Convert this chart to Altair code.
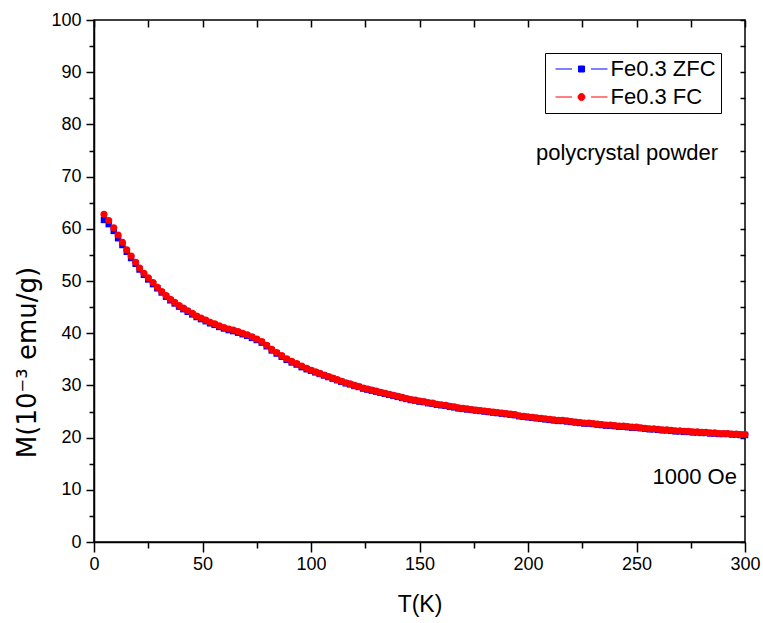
import altair as alt
import pandas as pd

# ---------------- data ----------------
T_low = [4.6, 6.8, 9.1, 11.1, 13.1, 15.1, 17.1, 19.2, 21.0, 23.0, 25.0, 27.2, 29.2,
         31.2, 33.2, 35.2, 37.2, 39.2, 41.2, 43.2, 45.3, 47.3, 49.3, 51.5, 53.5, 55.6,
         57.7, 59.9, 62.1, 64.2, 66.4, 68.5, 70.6, 72.8, 75.0, 77.3, 79.6, 81.9, 84.2,
         86.5, 88.8, 91.1, 93.4, 95.7, 98.0]
FC_low = [62.8, 61.6, 60.2, 58.8, 57.4, 56.0, 54.8, 53.6, 52.5, 51.5, 50.6, 49.7, 48.8,
          48.0, 47.2, 46.5, 45.9, 45.3, 44.8, 44.3, 43.8, 43.3, 42.9, 42.5, 42.1, 41.8,
          41.4, 41.1, 40.8, 40.6, 40.3, 40.0, 39.7, 39.3, 38.9, 38.4, 37.7, 36.9, 36.3,
          35.7, 35.1, 34.6, 34.2, 33.7, 33.3]
ZFC_low = [61.7, 60.9, 59.6, 58.2, 56.9, 55.6, 54.4, 53.3, 52.2, 51.2, 50.3, 49.4, 48.6,
           47.8, 47.0, 46.3, 45.7, 45.1, 44.6, 44.1, 43.6, 43.1, 42.7, 42.3, 41.9, 41.6,
           41.2, 40.9, 40.6, 40.4, 40.1, 39.8, 39.5, 39.1, 38.7, 38.2, 37.5, 36.7, 36.1,
           35.5, 34.9, 34.4, 34.0, 33.5, 33.1]
T_high = [100, 102, 104, 106, 108, 110, 112, 114, 116, 118, 120, 122, 124, 126, 128, 130,
          132, 134, 136, 138, 140, 142, 144, 146, 148, 150, 152, 154, 156, 158, 160, 162,
          164, 166, 168, 170, 172, 174, 176, 178, 180, 182, 184, 186, 188, 190, 192, 194,
          196, 198, 200, 202, 204, 206, 208, 210, 212, 214, 216, 218, 220, 222, 224, 226,
          228, 230, 232, 234, 236, 238, 240, 242, 244, 246, 248, 250, 252, 254, 256, 258,
          260, 262, 264, 266, 268, 270, 272, 274, 276, 278, 280, 282, 284, 286, 288, 290,
          292, 294, 296, 298, 300]
FC_high = [32.9, 32.6, 32.3, 32.0, 31.7, 31.4, 31.1, 30.8, 30.5, 30.3, 30.0, 29.8, 29.5,
           29.3, 29.1, 28.9, 28.7, 28.5, 28.3, 28.1, 27.9, 27.7, 27.5, 27.3, 27.2, 27.0,
           26.9, 26.7, 26.6, 26.4, 26.3, 26.2, 26.0, 25.9, 25.7, 25.6, 25.5, 25.4, 25.3,
           25.2, 25.1, 25.0, 24.9, 24.8, 24.7, 24.6, 24.5, 24.4, 24.2, 24.1, 24.0, 23.9,
           23.8, 23.7, 23.6, 23.5, 23.4, 23.3, 23.3, 23.2, 23.1, 23.0, 22.9, 22.8, 22.8,
           22.7, 22.6, 22.5, 22.4, 22.4, 22.3, 22.2, 22.2, 22.1, 22.0, 22.0, 21.9, 21.8,
           21.7, 21.7, 21.6, 21.5, 21.5, 21.4, 21.3, 21.3, 21.2, 21.2, 21.1, 21.1, 21.0,
           21.0, 20.9, 20.9, 20.8, 20.8, 20.8, 20.7, 20.7, 20.6, 20.6]
ZFC_high = [32.8, 32.5, 32.2, 31.9, 31.6, 31.3, 31.0, 30.7, 30.4, 30.2, 29.9, 29.7, 29.4,
            29.2, 29.0, 28.8, 28.6, 28.4, 28.2, 28.0, 27.8, 27.6, 27.4, 27.2, 27.1, 26.9,
            26.8, 26.6, 26.5, 26.3, 26.2, 26.1, 25.9, 25.8, 25.6, 25.5, 25.4, 25.3, 25.2,
            25.1, 25.0, 24.9, 24.8, 24.7, 24.6, 24.5, 24.4, 24.3, 24.1, 24.0, 23.9, 23.8,
            23.7, 23.6, 23.5, 23.4, 23.3, 23.2, 23.2, 23.1, 23.0, 22.9, 22.8, 22.7, 22.7,
            22.6, 22.5, 22.4, 22.3, 22.3, 22.2, 22.1, 22.1, 22.0, 21.9, 21.9, 21.8, 21.7,
            21.6, 21.6, 21.5, 21.4, 21.4, 21.3, 21.2, 21.2, 21.1, 21.1, 21.0, 21.0, 20.9,
            20.9, 20.8, 20.8, 20.7, 20.7, 20.7, 20.6, 20.6, 20.5, 20.5]

series_names = ["Fe0.3 ZFC", "Fe0.3 FC"]
series_colors = ["#0000ff", "#ff0000"]

note_labels = ["polycrystal powder", "1000 Oe"]
note_T = [287.6, 296.3]
note_M = [74.5, 12.4]

x_major = [0, 50, 100, 150, 200, 250, 300]
x_minor = [25, 75, 125, 175, 225, 275]
x_top = [0, 25, 50, 75, 100, 125, 150, 175, 200, 225, 250, 275, 300]
y_major = [0, 10, 20, 30, 40, 50, 60, 70, 80, 90, 100]
y_minor = [5, 15, 25, 35, 45, 55, 65, 75, 85, 95]
y_right = [0, 5, 10, 15, 20, 25, 30, 35, 40, 45, 50, 55, 60, 65, 70, 75, 80, 85, 90, 95, 100]

# ---------------- tables ----------------
T_all = T_low + T_high
zfc = pd.DataFrame([{"T": t, "M": m} for t, m in zip(T_all, ZFC_low + ZFC_high)])
fc = pd.DataFrame([{"T": t, "M": m} for t, m in zip(T_all, FC_low + FC_high)])
legend_df = pd.DataFrame({"series": series_names})
notes_df = pd.DataFrame({"label": note_labels, "T": note_T, "M": note_M})

SANS = "'Liberation Sans', Arial, sans-serif"
WIDE = "'DejaVu Sans', sans-serif"

xs = alt.Scale(domain=[0, 300], nice=False, zero=False)
ys = alt.Scale(domain=[0, 100], nice=False, zero=False)

common_axis = dict(grid=False, tickColor="black", tickWidth=1.5)

# ZFC line with the main (labelled) axes
zfc_line = alt.Chart(zfc).mark_line(color=series_colors[0], strokeWidth=1).encode(
    x=alt.X("T:Q", scale=xs, axis=alt.Axis(
        orient="bottom", values=x_major, tickSize=10, domain=True, domainColor="black",
        domainWidth=1.5, labelFont=SANS, labelFontSize=18, labelColor="black",
        labelPadding=3, labelFlush=False, labelOverlap=False,
        title="T(K)", titleFont=SANS, titleFontSize=23, titleFontWeight="normal",
        titleColor="black", titlePadding=20, **common_axis)),
    y=alt.Y("M:Q", scale=ys, axis=alt.Axis(
        orient="left", values=y_major, tickSize=8, domain=True, domainColor="black",
        domainWidth=1.5, labelFont=SANS, labelFontSize=18, labelColor="black",
        labelPadding=5, labelFlush=False, labelOverlap=False,
        title="M(10⁻³ emu/g)", titleFont=WIDE, titleFontSize=26, titleFontWeight="normal",
        titleColor="black", titleX=-67, titleY=342, titleAlign="center",
        titleBaseline="middle", titleAngle=270, **common_axis)),
)

# ZFC points with the minor-tick axes
zfc_pts = alt.Chart(zfc).mark_point(shape="square", filled=True, size=42, opacity=1,
                                    color=series_colors[0]).encode(
    x=alt.X("T:Q", scale=xs, axis=alt.Axis(
        orient="bottom", values=x_minor, tickSize=6, domain=False, labels=False,
        title=None, **common_axis)),
    y=alt.Y("M:Q", scale=ys, axis=alt.Axis(
        orient="left", values=y_minor, tickSize=5, domain=False, labels=False,
        title=None, **common_axis)),
)

# FC line with inward ticks on top and right frame
fc_line = alt.Chart(fc).mark_line(color=series_colors[1], strokeWidth=1).encode(
    x=alt.X("T:Q", scale=xs, axis=alt.Axis(
        orient="top", values=x_top, tickSize=7, offset=-7, domain=False, labels=False,
        title=None, **common_axis)),
    y=alt.Y("M:Q", scale=ys, axis=alt.Axis(
        orient="right", values=y_right, tickSize=5, offset=-5, domain=False, labels=False,
        title=None, **common_axis)),
)

fc_pts = alt.Chart(fc).mark_circle(size=50, opacity=1, color=series_colors[1]).encode(
    x=alt.X("T:Q", scale=xs, axis=None),
    y=alt.Y("M:Q", scale=ys, axis=None),
)

legend_paths = [
    "M-5.2,0H-1.9M1.9,0H5.2M-0.6,-0.6H0.6V0.6H-0.6Z",
    "M-5.2,0H-1.9M1.9,0H5.2M0.7,0A0.7,0.7,0,1,1,-0.7,0A0.7,0.7,0,1,1,0.7,0Z",
]
leg = alt.Legend(title=None, orient="none", legendX=451, legendY=33,
                 strokeColor="black", padding=5, rowPadding=6,
                 labelFont=SANS, labelFontSize=22, labelColor="black",
                 symbolSize=100, symbolStrokeWidth=1, symbolOffset=20.5, labelOffset=18)

legend_layer = alt.Chart(legend_df).transform_filter("false").mark_point(
    filled=True, strokeWidth=1, size=100, opacity=1).encode(
    fill=alt.Fill("series:N", scale=alt.Scale(domain=series_names, range=series_colors), legend=leg),
    stroke=alt.Stroke("series:N", scale=alt.Scale(domain=series_names, range=series_colors), legend=leg),
    shape=alt.Shape("series:N", scale=alt.Scale(domain=series_names, range=legend_paths), legend=leg),
)

notes_layer = alt.Chart(notes_df).mark_text(
    align="right", baseline="middle", font=SANS, fontSize=22, color="black").encode(
    x=alt.X("T:Q", scale=xs, axis=None),
    y=alt.Y("M:Q", scale=ys, axis=None),
    text="label:N",
)

chart = alt.layer(
    zfc_line, zfc_pts, fc_line, fc_pts, legend_layer, notes_layer
).resolve_axis(
    x="independent", y="independent"
).properties(
    width=651, height=522,
    padding={"left": 94, "top": 20, "right": 18, "bottom": 81},
    autosize=alt.AutoSizeParams(type="none"),
    background="white",
).configure_view(
    stroke="black", strokeWidth=1.5
)

chart.save("out.html", embed_options={"renderer": "svg", "actions": False})
